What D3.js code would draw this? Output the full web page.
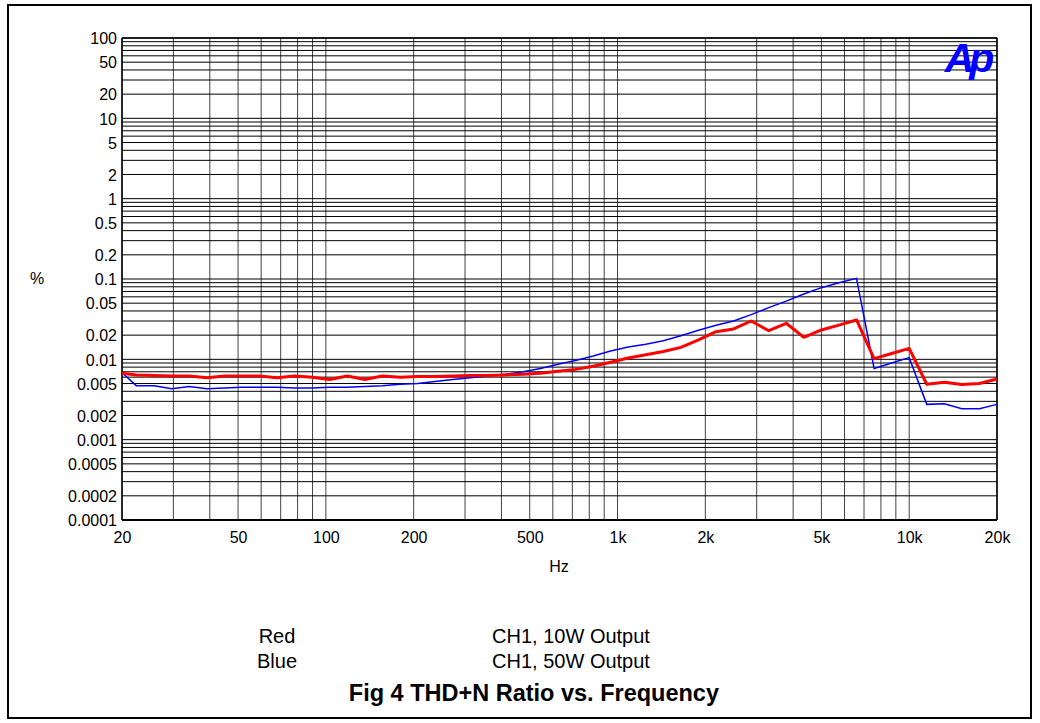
<!DOCTYPE html>
<html>
<head>
<meta charset="utf-8">
<script src="https://cdn.jsdelivr.net/npm/d3@7"></script>
<style>
  html, body { margin: 0; padding: 0; background: #fff; }
  svg { display: block; }
  text { font-family: "Liberation Sans", Arial, sans-serif; fill: #000; }
</style>
</head>
<body>
<svg id="chart" width="1040" height="723"></svg>
<script>
// ---- Data ----
const freqs = [20, 22.4, 25.8, 29.6, 34, 39.1, 44.9, 51.5, 59.2, 68, 78.1, 89.7, 103.1, 118.4, 136, 156.2,
  179.5, 206.1, 236.8, 272, 312.5, 359, 412, 474, 544, 625, 718, 825, 947, 1088, 1250, 1436, 1649, 1895,
  2176, 2500, 2872, 3299, 3789, 4353, 5000, 5743, 6598, 7579, 8706, 10000, 11487, 13195, 15157, 17411, 20000];

const red10W = [0.0067, 0.0064, 0.0063, 0.0062, 0.0062, 0.0059, 0.0062, 0.0062, 0.0062, 0.0059, 0.0062, 0.0060,
  0.0056, 0.0062, 0.0056, 0.0062, 0.0060, 0.0061, 0.0061, 0.0062, 0.0063, 0.0063, 0.0064, 0.0065, 0.0067,
  0.0071, 0.0075, 0.0082, 0.0092, 0.0104, 0.0114, 0.0125, 0.0141, 0.0175, 0.0221, 0.0239, 0.0300, 0.0227,
  0.0281, 0.0188, 0.0232, 0.0267, 0.0309, 0.0102, 0.0118, 0.0137, 0.0049, 0.0052, 0.00485, 0.0050, 0.0057];

const blue50W = [0.0068, 0.0047, 0.0047, 0.0043, 0.0046, 0.0043, 0.0044, 0.0045, 0.0045, 0.0045, 0.0044, 0.0044,
  0.0045, 0.0045, 0.0046, 0.0047, 0.0049, 0.0050, 0.0053, 0.0056, 0.0059, 0.0062, 0.0065, 0.0070, 0.0077,
  0.0087, 0.0097, 0.0110, 0.0127, 0.0142, 0.0154, 0.0170, 0.0197, 0.0230, 0.0265, 0.0300, 0.0360, 0.0440,
  0.0530, 0.0650, 0.0780, 0.0900, 0.1020, 0.0077, 0.0090, 0.0105, 0.00275, 0.0028, 0.00243, 0.00243, 0.00275];

const xTickValues = [20, 50, 100, 200, 500, 1000, 2000, 5000, 10000, 20000];
const xTickLabels = ["20", "50", "100", "200", "500", "1k", "2k", "5k", "10k", "20k"];
const yTickValues = [100, 50, 20, 10, 5, 2, 1, 0.5, 0.2, 0.1, 0.05, 0.02, 0.01, 0.005, 0.002, 0.001, 0.0005, 0.0002, 0.0001];
const yTickLabels = ["100", "50", "20", "10", "5", "2", "1", "0.5", "0.2", "0.1", "0.05", "0.02", "0.01", "0.005", "0.002", "0.001", "0.0005", "0.0002", "0.0001"];

const legendNames = ["Red", "Blue"];
const legendDescs = ["CH1, 10W Output", "CH1, 50W Output"];
const titleText = "Fig 4 THD+N Ratio vs. Frequency";

// ---- Layout ----
const svg = d3.select("#chart");
const L = 122, R = 997, T = 38, B = 520;

const x = d3.scaleLog().domain([20, 20000]).range([L, R]);
const y = d3.scaleLog().domain([0.0001, 100]).range([B, T]);

// outer frame
svg.append("rect").attr("x", 8).attr("y", 5).attr("width", 1023).attr("height", 713)
  .attr("fill", "#fff").attr("stroke", "#000").attr("stroke-width", 2);

// grid lines
const gx = svg.append("g");
gx.selectAll("line.v").data(x.ticks()).enter().append("line")
  .attr("x1", d => x(d)).attr("x2", d => x(d)).attr("y1", T).attr("y2", B)
  .attr("stroke", "#444").attr("stroke-width", 1);
gx.selectAll("line.h").data(y.ticks()).enter().append("line")
  .attr("y1", d => y(d)).attr("y2", d => y(d)).attr("x1", L).attr("x2", R)
  .attr("stroke", "#000").attr("stroke-width", 1);

// frame of plot
svg.append("line").attr("x1", L).attr("x2", L).attr("y1", T).attr("y2", B).attr("stroke", "#000").attr("stroke-width", 1.5);
svg.append("line").attr("x1", R).attr("x2", R).attr("y1", T).attr("y2", B).attr("stroke", "#000").attr("stroke-width", 1.5);
svg.append("line").attr("x1", L).attr("x2", R).attr("y1", B).attr("y2", B).attr("stroke", "#000").attr("stroke-width", 2);
svg.append("line").attr("x1", L).attr("x2", R).attr("y1", T).attr("y2", T).attr("stroke", "#000").attr("stroke-width", 1.5);

// axes labels
const xAxis = d3.axisBottom(x).tickValues(xTickValues).tickFormat((d, i) => xTickLabels[i]).tickSize(0).tickPadding(0);
const gxa = svg.append("g").attr("transform", `translate(0,${B})`).call(xAxis);
gxa.select(".domain").remove();
gxa.selectAll("text").attr("y", 23).attr("dy", 0).style("font-size", "16px").style("font-family", "Liberation Sans, Arial, sans-serif").attr("fill", "#000");

const yAxis = d3.axisLeft(y).tickValues(yTickValues).tickFormat((d, i) => yTickLabels[i]).tickSize(0).tickPadding(5);
const gya = svg.append("g").attr("transform", `translate(${L},0)`).call(yAxis);
gya.select(".domain").remove();
gya.selectAll("text").attr("dy", "0.36em").style("font-size", "16px").style("font-family", "Liberation Sans, Arial, sans-serif").attr("fill", "#000");

svg.append("text").attr("x", 37).attr("y", 278).attr("dy", "0.36em").attr("text-anchor", "middle")
  .style("font-size", "16px").text("%");
svg.append("text").attr("x", 559).attr("y", 566).attr("dy", "0.36em").attr("text-anchor", "middle")
  .style("font-size", "16px").text("Hz");

// data lines
const line = d3.line().x((d, i) => x(freqs[i])).y(d => y(d));
svg.append("path").datum(blue50W).attr("d", line).attr("fill", "none")
  .attr("stroke", "#0000ff").attr("stroke-width", 1.5).attr("stroke-linejoin", "miter");
svg.append("path").datum(red10W).attr("d", line).attr("fill", "none")
  .attr("stroke", "#ff0000").attr("stroke-width", 3).attr("stroke-linejoin", "round");

// Ap logo
svg.append("text").attr("x", 967).attr("y", 72).attr("text-anchor", "middle")
  .style("font-size", "41px").style("font-weight", "bold").style("font-style", "italic")
  .style("letter-spacing", "-5px").attr("fill", "#0000ff").style("fill", "#0000ff").text("Ap");

// legend
const lg = svg.append("g");
lg.selectAll("text.n").data(legendNames).enter().append("text")
  .attr("x", 277).attr("y", (d, i) => 636 + i * 25).attr("dy", "0.36em").attr("text-anchor", "middle")
  .style("font-size", "20px").text(d => d);
lg.selectAll("text.d").data(legendDescs).enter().append("text")
  .attr("x", 571).attr("y", (d, i) => 636 + i * 25).attr("dy", "0.36em").attr("text-anchor", "middle")
  .style("font-size", "20px").text(d => d);
svg.append("text").attr("x", 719).attr("y", 693).attr("dy", "0.36em").attr("text-anchor", "end")
  .style("font-size", "23.5px").style("font-weight", "bold").text(titleText);
</script>
</body>
</html>
